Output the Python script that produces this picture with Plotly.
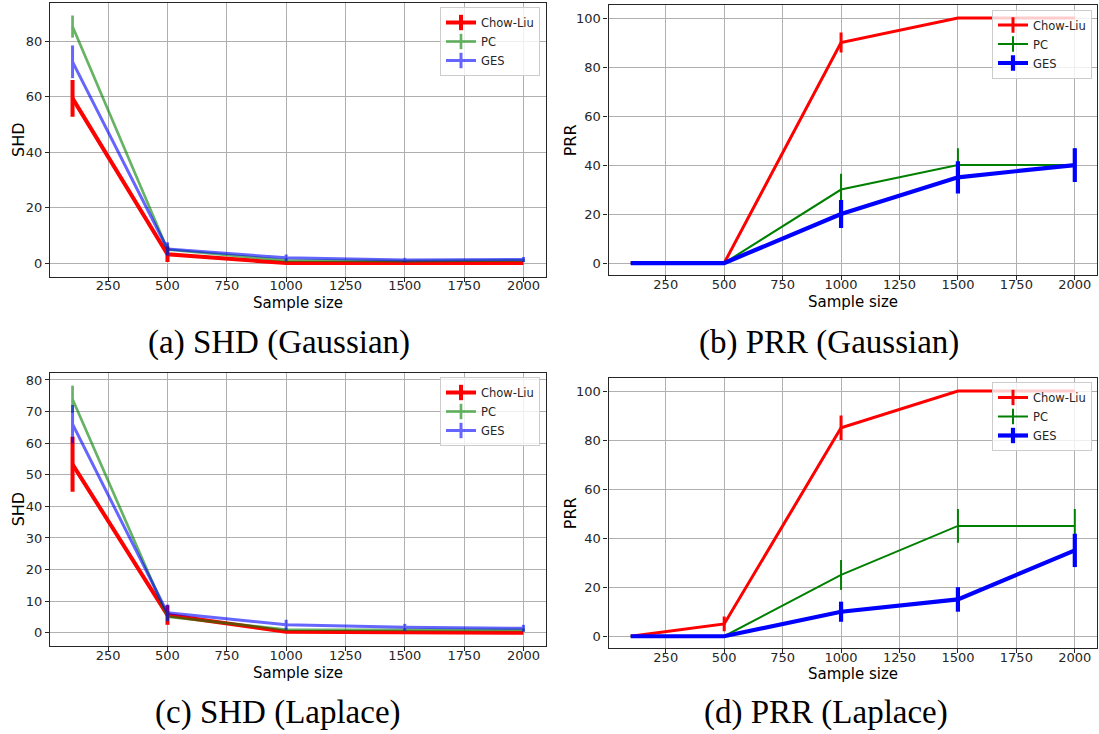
import plotly.graph_objects as go

# ---------------- data ----------------
sample_sizes = [100, 500, 1000, 1500, 2000]
x_ticks = [250, 500, 750, 1000, 1250, 1500, 1750, 2000]
methods = ["Chow-Liu", "PC", "GES"]

# (a) SHD Gaussian
shd_gauss_chowliu = [59.4, 3.2, 0.0, 0.0, 0.0]
shd_gauss_chowliu_err = [6.6, 2.8, 0.2, 0.0, 0.0]
shd_gauss_pc = [85.3, 4.9, 1.0, 0.7, 1.0]
shd_gauss_pc_err = [4.0, 2.0, 0.8, 0.5, 0.6]
shd_gauss_ges = [72.6, 5.1, 1.9, 1.1, 1.3]
shd_gauss_ges_err = [5.9, 2.4, 1.2, 0.8, 0.9]

# (b) PRR Gaussian
prr_gauss_chowliu = [0, 0, 90, 100, 100]
prr_gauss_chowliu_err = [0, 0, 4.1, 0, 0]
prr_gauss_pc = [0, 0, 30, 40, 40]
prr_gauss_pc_err = [0, 0, 6.4, 6.9, 6.9]
prr_gauss_ges = [0, 0, 20, 35, 40]
prr_gauss_ges_err = [0, 0, 5.7, 6.6, 6.9]

# (c) SHD Laplace
shd_lap_chowliu = [53.3, 5.6, 0.3, 0.0, 0.0]
shd_lap_chowliu_err = [8.7, 3.1, 0.3, 0.0, 0.0]
shd_lap_pc = [73.9, 5.1, 1.0, 0.9, 0.9]
shd_lap_pc_err = [4.3, 1.5, 0.5, 0.5, 0.5]
shd_lap_ges = [66.0, 6.3, 2.5, 1.7, 1.4]
shd_lap_ges_err = [6.1, 2.6, 1.6, 1.1, 1.1]

# (d) PRR Laplace
prr_lap_chowliu = [0, 5, 85, 100, 100]
prr_lap_chowliu_err = [0, 3, 5, 0, 0]
prr_lap_pc = [0, 0, 25, 45, 45]
prr_lap_pc_err = [0, 0, 6.1, 6.9, 6.9]
prr_lap_ges = [0, 0, 10, 15, 35]
prr_lap_ges_err = [0, 0, 4.1, 5.0, 6.8]

captions = ["(a) SHD (Gaussian)", "(b) PRR (Gaussian)", "(c) SHD (Laplace)", "(d) PRR (Laplace)"]
y_titles = ["SHD", "PRR", "SHD", "PRR"]
x_title = "Sample size"

W, H = 1099, 734
def px_x(p):
    return p / W
def px_y(p):
    return 1 - p / H

panels = [
    dict(series=[(shd_gauss_chowliu, shd_gauss_chowliu_err), (shd_gauss_pc, shd_gauss_pc_err), (shd_gauss_ges, shd_gauss_ges_err)],
         styles=[("red", 4, 1.0), ("green", 2.7, 0.6), ("blue", 3, 0.6)],
         xd=(50, 546), yd=(3.3, 276.7), yr=[-4.9, 93.7], ytv=[0, 20, 40, 60, 80],
         leg=(540, 7), ytitle_x=18, xtitle_y=303, cap=(279, 342)),
    dict(series=[(prr_gauss_chowliu, prr_gauss_chowliu_err), (prr_gauss_pc, prr_gauss_pc_err), (prr_gauss_ges, prr_gauss_ges_err)],
         styles=[("red", 3, 1.0), ("green", 2, 1.0), ("blue", 4.2, 1.0)],
         xd=(608.5, 1097), yd=(5.3, 275.3), yr=[-5, 105.2], ytv=[0, 20, 40, 60, 80, 100],
         leg=(1092, 9.5), ytitle_x=570, xtitle_y=302, cap=(829, 342)),
    dict(series=[(shd_lap_chowliu, shd_lap_chowliu_err), (shd_lap_pc, shd_lap_pc_err), (shd_lap_ges, shd_lap_ges_err)],
         styles=[("red", 4, 1.0), ("green", 2.7, 0.6), ("blue", 3, 0.6)],
         xd=(50, 546), yd=(372.7, 646), yr=[-4.2, 82.3], ytv=[0, 10, 20, 30, 40, 50, 60, 70, 80],
         leg=(540, 377), ytitle_x=18, xtitle_y=673, cap=(278, 712)),
    dict(series=[(prr_lap_chowliu, prr_lap_chowliu_err), (prr_lap_pc, prr_lap_pc_err), (prr_lap_ges, prr_lap_ges_err)],
         styles=[("red", 3, 1.0), ("green", 2, 1.0), ("blue", 4.2, 1.0)],
         xd=(608.5, 1097), yd=(378.3, 648), yr=[-4.8, 105.2], ytv=[0, 20, 40, 60, 80, 100],
         leg=(1092, 382), ytitle_x=570, xtitle_y=674, cap=(826, 712)),
]

fig = go.Figure()
layout = dict(
    width=W, height=H, margin=dict(l=0, r=0, t=0, b=0),
    paper_bgcolor="white", plot_bgcolor="white",
    font=dict(family="DejaVu Sans", size=13, color="#262626"),
    annotations=[],
)

for i, p in enumerate(panels):
    n = "" if i == 0 else str(i + 1)
    xa, ya = "x" + n, "y" + n
    legname = "legend" + n
    for (vals, errs), (col, lw, op), name in zip(p["series"], p["styles"], methods):
        fig.add_trace(go.Scatter(
            x=sample_sizes, y=vals, mode="lines", name=name,
            line=dict(color=col, width=lw), opacity=op,
            error_y=dict(type="data", array=errs, visible=True, thickness=lw, width=0, color=col),
            xaxis=xa, yaxis=ya, showlegend=False,
        ))
    for (col, lw, op), name in zip(p["styles"], methods):
        fig.add_trace(go.Scatter(
            x=[None], y=[None], mode="lines+markers", name=name,
            line=dict(color=col, width=lw), opacity=op,
            marker=dict(symbol="line-ns", size=11, color=col, line=dict(color=col, width=lw)),
            xaxis=xa, yaxis=ya, showlegend=True, legend=legname,
        ))
    axis_common = dict(
        showline=True, mirror=True, linecolor="#262626", linewidth=1.2,
        ticks="outside", ticklen=4, tickwidth=1, tickcolor="#262626",
        showgrid=True, gridcolor="#b0b0b0", gridwidth=1, zeroline=False,
        tickfont=dict(family="DejaVu Sans", size=13, color="#262626"),
    )
    layout["xaxis" + n] = dict(
        domain=[px_x(p["xd"][0]), px_x(p["xd"][1])], range=[5, 2095],
        tickmode="array", tickvals=x_ticks, anchor=ya, ticklabelstandoff=-7, **axis_common)
    layout["yaxis" + n] = dict(
        domain=[px_y(p["yd"][1]), px_y(p["yd"][0])], range=p["yr"],
        tickmode="array", tickvals=p["ytv"], anchor=xa, **axis_common)
    layout[legname] = dict(
        x=px_x(p["leg"][0]), y=px_y(p["leg"][1]), xanchor="right", yanchor="top",
        xref="paper", yref="paper",
        bgcolor="rgba(255,255,255,0.8)", bordercolor="#cccccc", borderwidth=1,
        font=dict(family="DejaVu Sans", size=11.5, color="#262626"),
        tracegroupgap=0, itemwidth=30,
    )
    xc = (p["xd"][0] + p["xd"][1]) / 2
    layout["annotations"].append(dict(
        text=x_title, x=px_x(xc), y=px_y(p["xtitle_y"]), xref="paper", yref="paper",
        xanchor="center", yanchor="middle", showarrow=False,
        font=dict(family="DejaVu Sans", size=15, color="black")))
    yc = (p["yd"][0] + p["yd"][1]) / 2
    layout["annotations"].append(dict(
        text=y_titles[i], x=px_x(p["ytitle_x"]), y=px_y(yc), xref="paper", yref="paper",
        xanchor="center", yanchor="middle", showarrow=False, textangle=-90,
        font=dict(family="DejaVu Sans", size=16, color="black")))
    layout["annotations"].append(dict(
        text=captions[i], x=px_x(p["cap"][0]), y=px_y(p["cap"][1]), xref="paper", yref="paper",
        xanchor="center", yanchor="middle", showarrow=False,
        font=dict(family="Liberation Serif", size=33, color="black")))

fig.update_layout(**layout)
fig.write_html("out.html")
